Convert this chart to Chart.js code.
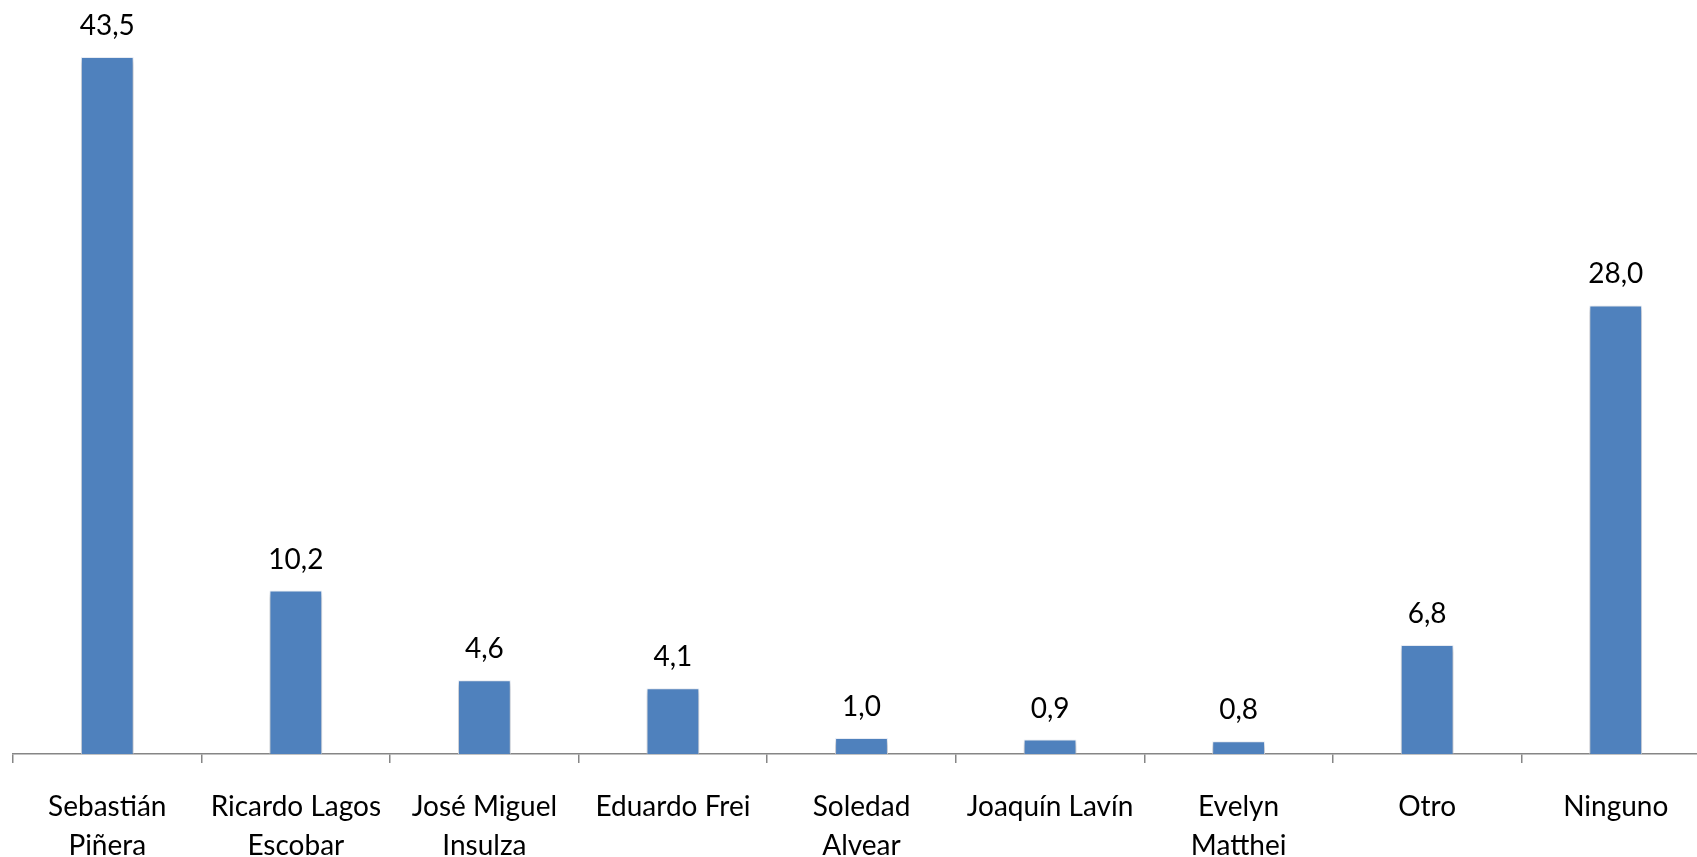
<!DOCTYPE html>
<html>
<head>
<meta charset="utf-8">
<script src="https://cdn.jsdelivr.net/npm/chart.js@4"></script>
<style>
  html, body { margin: 0; padding: 0; background: #fff; overflow: hidden; }
  #wrap { width: 1710px; height: 857px; }
</style>
</head>
<body>
<div id="wrap"><canvas id="myChart"></canvas></div>
<script>
const categories = [
  ["Sebastián", "Piñera"],
  ["Ricardo Lagos", "Escobar"],
  ["José Miguel", "Insulza"],
  ["Eduardo Frei"],
  ["Soledad", "Alvear"],
  ["Joaquín Lavín"],
  ["Evelyn", "Matthei"],
  ["Otro"],
  ["Ninguno"],
];
const values = [43.5, 10.2, 4.6, 4.1, 1.0, 0.9, 0.8, 6.8, 28.0];

const FONT = "Lato, 'Open Sans', sans-serif";

// shadow under bars + value labels on top
const barExtras = {
  id: "barExtras",
  beforeDatasetDraw(chart) {
    const ctx = chart.ctx;
    ctx.save();
    ctx.shadowColor = "rgba(0,0,0,0.35)";
    ctx.shadowBlur = 5;
    ctx.shadowOffsetY = 3;
  },
  afterDatasetDraw(chart) {
    chart.ctx.restore();
  },
  afterDatasetsDraw(chart) {
    const ctx = chart.ctx;
    const meta = chart.getDatasetMeta(0);
    ctx.save();
    ctx.font = "28px " + FONT;
    ctx.fillStyle = "#000";
    ctx.textAlign = "center";
    ctx.textBaseline = "alphabetic";
    meta.data.forEach((bar, i) => {
      ctx.fillText(values[i].toFixed(1).replace(".", ","), bar.x, bar.y - 22);
    });
    ctx.restore();
  },
};

initChart();

function initChart() {
  const ctx = document.getElementById("myChart").getContext("2d");
  window.chart = new Chart(ctx, {
    type: "bar",
    data: {
      labels: categories,
      datasets: [
        {
          data: values,
          backgroundColor: "#4F81BD",
          borderColor: "rgba(235,240,248,0.9)",
          borderWidth: 1,
          categoryPercentage: 1.0,
          barPercentage: 0.28,
        },
      ],
    },
    options: {
      responsive: true,
      maintainAspectRatio: false,
      animation: false,
      layout: { padding: { left: 13, right: 0, top: 1, bottom: 0 } },
      plugins: { legend: { display: false }, tooltip: { enabled: false } },
      scales: {
        x: {
          grid: {
            drawOnChartArea: false,
            drawTicks: true,
            tickLength: 9,
            color: "#868686",
            lineWidth: 1.5,
          },
          border: { color: "#868686", width: 1.5 },
          ticks: {
            color: "#000",
            font: { family: FONT, size: 28, lineHeight: 1.4 },
            maxRotation: 0,
            autoSkip: false,
            padding: 24,
          },
          afterFit(scale) {
            scale.height = 103;
          },
        },
        y: {
          display: false,
          min: 0,
          max: 47,
        },
      },
    },
    plugins: [barExtras],
  });
}
</script>
</body>
</html>
